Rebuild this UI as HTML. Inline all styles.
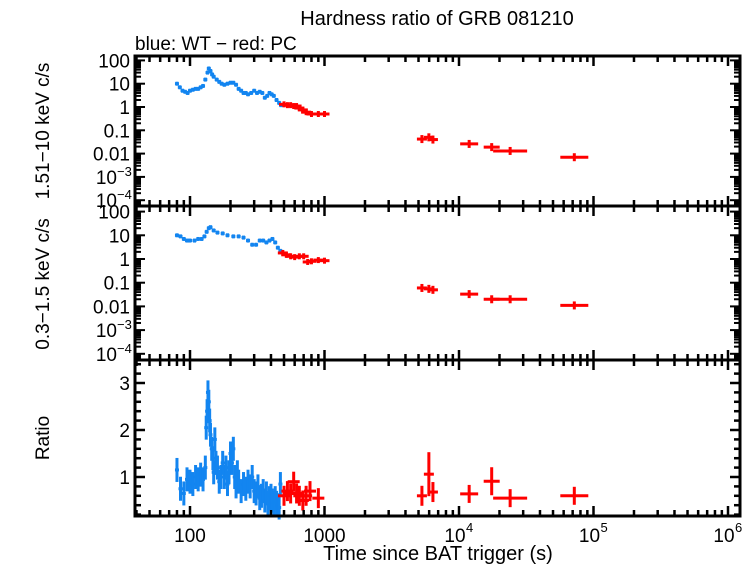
<!DOCTYPE html>
<html><head><meta charset="utf-8"><style>
body{margin:0;background:#fff;}
svg text{font-family:"Liberation Sans",sans-serif;fill:#000;}
</style></head><body>
<svg id="c" width="755" height="566" xmlns="http://www.w3.org/2000/svg">
<text x="437" y="25" font-size="20" text-anchor="middle">Hardness ratio of GRB 081210</text>
<text x="135" y="50" font-size="19">blue: WT − red: PC</text>
<text transform="translate(49,131) rotate(-90)" font-size="19" text-anchor="middle">1.51−10 keV c/s</text>
<text transform="translate(49,284) rotate(-90)" font-size="19" text-anchor="middle">0.3−1.5 keV c/s</text>
<text transform="translate(49,438) rotate(-90)" font-size="19" text-anchor="middle">Ratio</text>
<text x="438" y="560" font-size="20" text-anchor="middle">Time since BAT trigger (s)</text>
</svg>
<script>
// data
const hardWT_t=[80,84,88,92,96,100,105,110,115,120,125,130,135,138,142,146,150,158,165,172,180,190,200,210,220,230,240,250,260,270,285,300,315,330,345,360,375,390,405,420,440,460,475];
const hardWT_v=[10,7,5,4.5,4,5,5.5,6,6,7,8,15,30,45,35,25,20,15,12,10,9,10,11,11,9,6,5,4,4,3.5,4,5,4,4.5,4,2.5,3,4,3.5,3,2,1.5,1.2];
const hardPC_t=[500,530,560,590,620,650,690,730,800,900,1000];
const hardPC_v=[1.3,1.2,1.2,1.1,1.1,0.9,0.75,0.6,0.5,0.5,0.5];
const hardLate_t=[5300,5970,6400,11900,17500,24000,72000];
const hardLate_v=[0.042,0.05,0.04,0.026,0.019,0.013,0.007];
const softWT_t=[80,85,90,95,100,108,115,122,128,133,138,142,150,160,175,190,210,230,250,270,290,310,330,350,370,390,410,430,450,470];
const softWT_v=[10,9,7,6,6,6,7,7,9,14,20,22,16,13,12,10,9,9,8,6,4,4,6,6,5,6,7,5,3,2.2];
const softPC_t=[490,520,560,600,650,700,750,800,900,1000];
const softPC_v=[1.8,1.5,1.3,1.2,1.3,1.3,0.75,0.8,0.9,0.85];
const softLate_t=[5300,5970,6400,11900,17500,24000,72000];
const softLate_v=[0.06,0.055,0.05,0.033,0.02,0.02,0.011];
const ratWT_t=[80,85,90,95,100,105,110,115,120,125,130,132,134,136,138,140,142,145,148,150,153,156,160,165,170,175,180,185,190,195,200,205,210,215,220,225,230,240,250,260,270,280,290,300,310,320,330,340,350,360,370,380,390,400,410,420,430,440,450,460,470];
const ratWT_v=[1.15,0.75,0.65,0.95,0.9,0.85,1.0,0.95,1.05,0.95,1.2,2.05,2.4,2.8,2.6,2.2,1.9,1.6,1.4,1.1,1.8,1.3,1.2,0.9,1.0,1.3,1.0,1.2,0.85,1.1,1.5,1.3,1.6,1.0,0.8,1.1,0.9,0.7,0.85,0.75,0.9,0.8,1.0,0.7,0.65,0.8,0.55,0.6,0.7,0.5,0.65,0.45,0.55,0.6,0.5,0.45,0.55,0.45,0.4,0.35,0.85];
const ratPC_t=[500,530,560,590,620,650,690,730,780,900];
const ratPC_v=[0.6,0.7,0.65,0.9,0.65,0.6,0.5,0.6,0.7,0.55];
const ratLate_t=[5300,5970,6400,11900,17500,24000,72000];
const ratLate_v=[0.6,1.06,0.68,0.64,0.91,0.55,0.6];

const svg=document.getElementById('c');const NS='http://www.w3.org/2000/svg';
const X0=135,X1=740;
function xs(t){return 190+(Math.log10(t)-2)*134.5;}
function el(tag,a,name){const e=document.createElementNS(NS,tag);for(const k in a)e.setAttribute(k,a[k]);


svg.appendChild(e);return e;}
const panels=[
 {top:56,bot:206,y:v=>107-Math.log10(v)*23.3,log:true,labY:[[100,'100'],[10,'10'],[1,'1'],[0.1,'0.1'],[0.01,'0.01'],[0.001,'10','−3'],[0.0001,'10','−4']]},
 {top:206,bot:360,y:v=>259-Math.log10(v)*23.7,log:true,labY:[[100,'100'],[10,'10'],[1,'1'],[0.1,'0.1'],[0.01,'0.01'],[0.001,'10','−3'],[0.0001,'10','−4']]},
 {top:360,bot:516,y:v=>477-(v-1)*47,log:false,labY:[[1,'1'],[2,'2'],[3,'3']]}
];
const BLUE='#1385f0',RED='#ff0000';
function ptsLog(p,ts,vs,col,dx,dy,name){ts.forEach((t,i)=>{const x=xs(t),y=p.y(vs[i]);
 el('line',{x1:x-dx,x2:x+dx,y1:y,y2:y,stroke:col,'stroke-width':3},name+'-xerr');
 el('line',{x1:x,x2:x,y1:y-dy,y2:y+dy,stroke:col,'stroke-width':3},name+'-yerr');});}
function lateX(t){return t<10000?5:(t<15000?9:(t<20000?8:(t<30000?17:14)));}
function lateErr(p,ts,vs,col,dyf,name){ts.forEach((t,i)=>{const x=xs(t),y=p.y(vs[i]);const dx=lateX(t);
 el('line',{x1:x-dx,x2:x+dx,y1:y,y2:y,stroke:col,'stroke-width':3},name+'-xerr');
 el('line',{x1:x,x2:x,y1:y-dyf(i),y2:y+dyf(i),stroke:col,'stroke-width':3},name+'-yerr');});}
[[0,hardWT_t,hardWT_v,hardPC_t,hardPC_v,hardLate_t,hardLate_v,'hard'],[1,softWT_t,softWT_v,softPC_t,softPC_v,softLate_t,softLate_v,'soft']].forEach(d=>{
 const p=panels[d[0]];
 ptsLog(p,d[1],d[2],BLUE,2,2,d[7]+'-wt-point');
 ptsLog(p,d[3],d[4],RED,5,3,d[7]+'-pc-point');
 lateErr(p,d[5],d[6],RED,()=>4,d[7]+'-late-point');
});
const pr=panels[2];
ptsLog(pr,ratWT_t,ratWT_v,BLUE,2,12,'ratio-wt-point');
ratPC_t.forEach((t,i)=>{const x=xs(t),y=pr.y(ratPC_v[i]);
 el('line',{x1:x-6,x2:x+6,y1:y,y2:y,stroke:RED,'stroke-width':3},'ratio-pc-xerr');
 el('line',{x1:x,x2:x,y1:y-10,y2:y+10,stroke:RED,'stroke-width':3},'ratio-pc-yerr');});
lateErr(pr,ratLate_t,ratLate_v,RED,i=>[10,22,10,9,14,9,9][i],'ratio-late-point');
panels.forEach((p,pi)=>{
 el('rect',{x:X0,y:p.top,width:X1-X0,height:p.bot-p.top,fill:'none',stroke:'#000','stroke-width':3},'panel-frame-'+pi);
 for(let e=1;e<=6;e++)for(let m=1;m<10;m++){const t=m*Math.pow(10,e);const x=xs(t);if(x<X0||x>X1)continue;const L=m==1?10:6;
  el('line',{x1:x,x2:x,y1:p.bot,y2:p.bot-L,stroke:'#000','stroke-width':2.5},'x-tick');
  el('line',{x1:x,x2:x,y1:p.top,y2:p.top+L,stroke:'#000','stroke-width':2.5},'x-tick');}
 if(p.log){for(let e=-5;e<=2;e++)for(let m=1;m<10;m++){const v=m*Math.pow(10,e);const y=p.y(v);if(y<p.top||y>p.bot)continue;const L=m==1?10:6;
  el('line',{x1:X0,x2:X0+L,y1:y,y2:y,stroke:'#000','stroke-width':2},'y-tick');
  el('line',{x1:X1,x2:X1-L,y1:y,y2:y,stroke:'#000','stroke-width':2},'y-tick');}}
 else{for(let v=0.2;v<3.5;v+=0.2){const y=p.y(v);const maj=Math.abs(v-Math.round(v))<0.01;const L=maj?10:6;
  el('line',{x1:X0,x2:X0+L,y1:y,y2:y,stroke:'#000','stroke-width':2.5},'y-tick');
  el('line',{x1:X1,x2:X1-L,y1:y,y2:y,stroke:'#000','stroke-width':2.5},'y-tick');}}
 p.labY.forEach(l=>{const y=p.y(l[0]);const t=el('text',{x:l[2]?117:130,y:y+7,'font-size':19,'text-anchor':'end'},'y-tick-label');t.textContent=l[1];
  if(l[2]){const s=el('text',{x:117,y:y-1,'font-size':13,'text-anchor':'start'},'y-tick-exp');s.textContent=l[2];}});
});
[[100,'100'],[1000,'1000']].forEach(l=>{const t=el('text',{x:xs(l[0]),y:542,'font-size':19,'text-anchor':'middle'},'x-tick-label');t.textContent=l[1];});
[4,5,6].forEach(e=>{const x=xs(Math.pow(10,e));const t=el('text',{x:x-4,y:542,'font-size':19,'text-anchor':'middle'},'x-tick-label');t.textContent='10';
 const s=el('text',{x:x+7,y:532,'font-size':13},'x-tick-exp');s.textContent=String(e);});
</script>
</body></html>
